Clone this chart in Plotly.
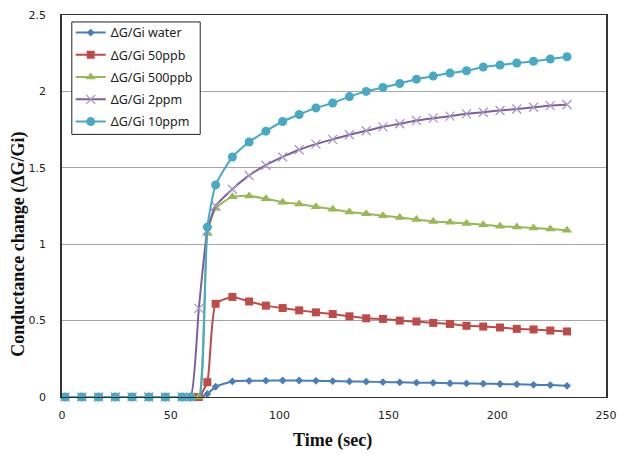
import plotly.graph_objects as go

# Time points (sec)
time_s = [1.4, 9.1, 16.8, 24.5, 32.2, 39.9, 47.5, 55.2, 59.1, 62.9, 66.8, 70.6,
          78.3, 86.0, 93.7, 101.4, 109.0, 116.7, 124.4, 132.1, 139.8, 147.5,
          155.2, 162.9, 170.6, 178.3, 185.9, 193.6, 201.3, 209.0, 216.7, 224.4, 232.1]

water = [0, 0, 0, 0, 0, 0, 0, 0, 0, -0.005, 0.02, 0.067,
         0.102, 0.106, 0.107, 0.108, 0.108, 0.106, 0.104, 0.102, 0.100, 0.098,
         0.096, 0.094, 0.093, 0.090, 0.089, 0.087, 0.085, 0.083, 0.080, 0.078, 0.073]

ppb50 = [0, 0, 0, 0, 0, 0, 0, 0, 0, 0, 0.097, 0.61,
         0.655, 0.625, 0.598, 0.582, 0.567, 0.554, 0.543, 0.528, 0.515, 0.511,
         0.500, 0.494, 0.485, 0.478, 0.466, 0.461, 0.455, 0.446, 0.442, 0.435, 0.429]

ppb500 = [0, 0, 0, 0, 0, 0, 0, 0, 0, 0, 1.07, 1.235,
          1.31, 1.316, 1.297, 1.275, 1.263, 1.245, 1.229, 1.21, 1.199, 1.186,
          1.175, 1.162, 1.149, 1.143, 1.136, 1.128, 1.117, 1.112, 1.106, 1.099, 1.091]

ppm2 = [0, 0, 0, 0, 0, 0, 0, 0, 0, 0.58, 1.09, 1.25,
        1.36, 1.45, 1.517, 1.571, 1.618, 1.655, 1.686, 1.716, 1.742, 1.768,
        1.788, 1.81, 1.825, 1.838, 1.853, 1.864, 1.875, 1.885, 1.896, 1.907, 1.914]

ppm10 = [0, 0, 0, 0, 0, 0, 0, 0, 0, -0.02, 1.112, 1.388,
         1.571, 1.669, 1.74, 1.803, 1.849, 1.892, 1.924, 1.966, 2.0, 2.026,
         2.052, 2.08, 2.10, 2.12, 2.135, 2.16, 2.173, 2.186, 2.197, 2.212, 2.227]

series_names = ["ΔG/Gi water", "ΔG/Gi 50ppb", "ΔG/Gi 500ppb", "ΔG/Gi 2ppm", "ΔG/Gi 10ppm"]
series_data = [water, ppb50, ppb500, ppm2, ppm10]
line_colors = ["#4A7EBB", "#BE4B48", "#98B954", "#7D5FA0", "#46AAC5"]
marker_colors = ["#4A7EBB", "#BE4B48", "#98B954", "#A995C9", "#46AAC5"]
symbols = ["diamond", "square", "triangle-up", "x-thin-open", "circle"]
sizes = [6, 8, 9, 9, 9]

x_tick_vals = [0, 50, 100, 150, 200, 250]
y_tick_vals = [0, 0.5, 1, 1.5, 2, 2.5]
y_tick_text = ["0", "0.5", "1", "1.5", "2", "2.5"]

fig = go.Figure()
for k, (name, ys, lc, mc, sym, sz) in enumerate(zip(series_names, series_data, line_colors,
                                                    marker_colors, symbols, sizes)):
    marker = dict(symbol=sym, size=sz, color=mc)
    if sym == "x-thin-open":
        marker["line"] = dict(color=mc, width=1.3)
    fig.add_trace(go.Scatter(
        x=time_s, y=ys, name=name, mode="lines+markers", legendgroup=f"g{k}",
        line=dict(color=lc, width=2, shape="spline", smoothing=0.5),
        marker=marker, cliponaxis=False,
    ))

title_font = dict(family="Liberation Serif", size=18, color="#111")

# plot area: 62..617 px horizontally, 13..397 px vertically
def px_x(p):
    return (p - 62) / 555

def px_y(p):
    return 1 - (p - 13) / 384

fig.update_layout(
    width=626, height=454,
    margin=dict(l=62, r=9, t=13, b=57),
    paper_bgcolor="white", plot_bgcolor="white",
    font=dict(family="DejaVu Sans", size=11, color="#222"),
    showlegend=True,
    legend=dict(
        x=0.016, y=px_y(16), xanchor="left", yanchor="top",
        bgcolor="rgba(0,0,0,0)", borderwidth=0,
        font=dict(family="Noto Sans", size=12.5, color="#222"),
        itemwidth=30, tracegroupgap=3,
    ),
    shapes=[
        dict(type="rect", xref="paper", yref="paper", layer="above",
             x0=px_x(72), x1=px_x(203), y0=px_y(133), y1=px_y(20),
             fillcolor="white", line=dict(color="#222", width=1)),
    ],
    xaxis=dict(
        range=[0, 250], tickvals=x_tick_vals,
        showgrid=False, zeroline=False,
        showline=True, linecolor="#333", linewidth=1, mirror=True,
        ticks="", ticklabelstandoff=8,
    ),
    yaxis=dict(
        range=[0, 2.5], tickvals=y_tick_vals, ticktext=y_tick_text,
        showgrid=True, gridcolor="#A6A6A6", gridwidth=1.3,
        zeroline=True, zerolinecolor="#000", zerolinewidth=1.5,
        showline=True, linecolor="#333", linewidth=1.5, mirror=True,
        ticks="", ticklabelstandoff=12,
    ),
    annotations=[
        dict(text="<b>Time (sec)</b>", xref="paper", yref="paper",
             x=px_x(338), y=px_y(441), xanchor="center", yanchor="middle",
             showarrow=False, font=title_font),
        dict(text="<b>Conductance change (ΔG/Gi)</b>", xref="paper", yref="paper",
             x=px_x(18), y=px_y(243), xanchor="center", yanchor="middle",
             textangle=-90, showarrow=False, font=title_font),
    ],
)

fig.write_html("out.html")
